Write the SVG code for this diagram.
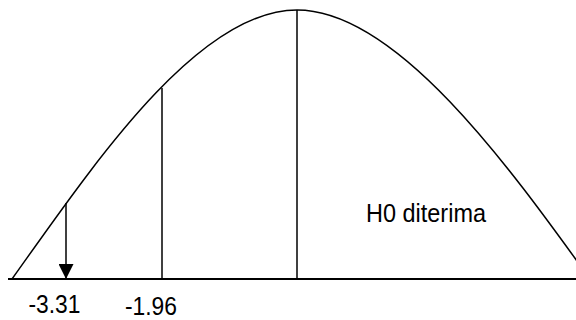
<svg xmlns="http://www.w3.org/2000/svg" width="576" height="320" viewBox="0 0 576 320">
<style>
.ln{stroke:#000;stroke-width:1.5;fill:none}
.base{stroke:#000;stroke-width:2.2;fill:none}
.t{font-family:"Liberation Sans",Arial,sans-serif;font-size:25px;fill:#000}
</style>
<defs>
<marker id="ah" viewBox="0 0 15 15" markerWidth="15" markerHeight="15" refX="15" refY="7.5" orient="auto" markerUnits="userSpaceOnUse">
<path d="M0,0 L15,7.5 L0,15 Z" fill="#000"/>
</marker>
</defs>
<g id="axis"><line class="base" x1="8" y1="279" x2="576" y2="279"/></g>
<g id="curve"><path class="ln" d="M12,279 C92,167 197,10 297,10 C397,10 510,168 590,279"/></g>
<g id="connectors">
<line class="ln" x1="162" y1="88" x2="162" y2="279"/>
<line class="ln" x1="297" y1="10" x2="297" y2="279"/>
<line class="ln" x1="66" y1="203" x2="66" y2="279" marker-end="url(#ah)"/>
</g>
<g id="labels">
<text class="t" x="28.5" y="313" textLength="52" lengthAdjust="spacingAndGlyphs">-3.31</text>
<text class="t" x="125" y="314.5" textLength="52" lengthAdjust="spacingAndGlyphs">-1.96</text>
<text class="t" x="366" y="221.5" textLength="120" lengthAdjust="spacingAndGlyphs">H0 diterima</text>
</g>
</svg>
